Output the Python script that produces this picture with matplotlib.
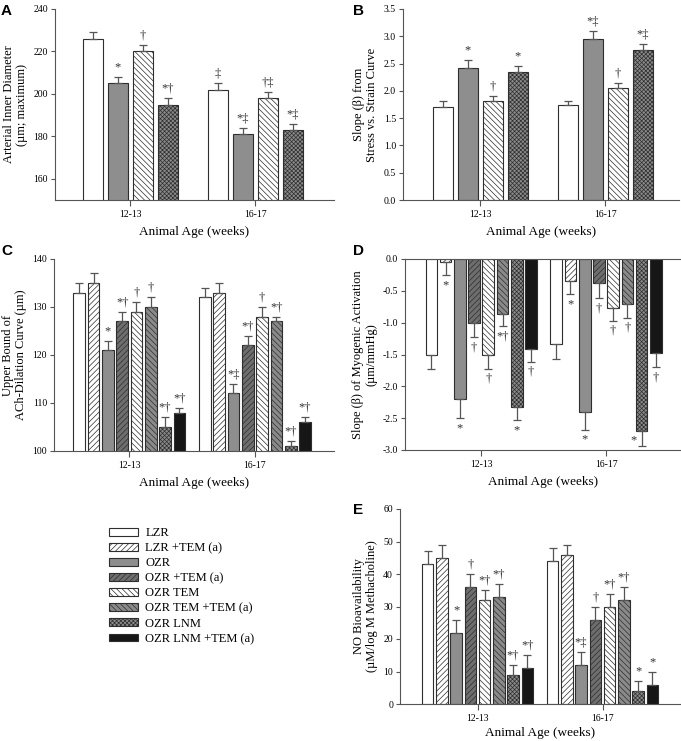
import numpy as np
import matplotlib.pyplot as plt
from matplotlib.patches import Patch

plt.rcParams['font.family'] = ['Liberation Serif', 'DejaVu Serif']
plt.rcParams['hatch.linewidth'] = 0.5

ages = ['12-13', '16-17']

# groups (order used in C, D, E)
groups = ['LZR', 'LZR +TEM (a)', 'OZR', 'OZR +TEM (a)', 'OZR TEM',
          'OZR TEM +TEM (a)', 'OZR LNM', 'OZR LNM +TEM (a)']

# A: arterial inner diameter (LZR, OZR, OZR TEM, OZR LNM)
diam = [[226, 205, 220, 195], [202, 181, 198, 183]]
diam_err = [[3, 3, 3, 3], [3, 3, 3, 3]]
diam_sig = [['', '*', '†', '*†'], ['‡', '*‡', '†‡', '*‡']]

# B: slope from stress vs strain curve
slope = [[1.71, 2.42, 1.82, 2.35], [1.75, 2.95, 2.05, 2.74]]
slope_err = [[0.11, 0.14, 0.08, 0.10], [0.07, 0.15, 0.09, 0.12]]
slope_sig = [['', '*', '†', '*'], ['', '*‡', '†', '*‡']]

# C: upper bound of ACh dilation curve
ach = [[133, 135, 121, 127, 129, 130, 105, 108],
       [132, 133, 112, 122, 128, 127, 101, 106]]
ach_err = [[2, 2, 2, 2, 2, 2, 2, 1],
           [2, 2, 2, 2, 2, 1, 1, 1]]
ach_sig = [['', '', '*', '*†', '†', '†', '*†', '*†'],
           ['', '', '*‡', '*†', '†', '*†', '*†', '*†']]

# D: slope of myogenic activation
myo = [[-1.50, -0.05, -2.20, -1.01, -1.50, -0.86, -2.32, -1.42],
       [-1.34, -0.34, -2.41, -0.37, -0.77, -0.71, -2.70, -1.48]]
myo_err = [[0.23, 0.20, 0.30, 0.22, 0.22, 0.19, 0.21, 0.19],
           [0.23, 0.21, 0.27, 0.25, 0.20, 0.21, 0.24, 0.22]]
myo_sig = [['', '*', '*', '†', '†', '*†', '*', '†'],
           ['', '*', '*', '†', '†', '†', '*', '†']]

# E: NO bioavailability
no = [[43, 45, 22, 36, 32, 33, 9, 11],
      [44, 46, 12, 26, 30, 32, 4, 6]]
no_err = [[4, 4, 4, 4, 3, 4, 3, 4],
          [4, 3, 4, 4, 4, 4, 3, 4]]
no_sig = [['', '', '*', '†', '*†', '*†', '*†', '*†'],
          ['', '', '*‡', '†', '*†', '*†', '*', '*']]

# fill, hatch for each group
styles = {
    'LZR': ('white', ''),
    'LZR +TEM (a)': ('white', '//////'),
    'OZR': ('#8e8e8e', ''),
    'OZR +TEM (a)': ('#6e6e6e', '//////'),
    'OZR TEM': ('white', '\\\\\\\\\\\\'),
    'OZR TEM +TEM (a)': ('#8a8a8a', '\\\\\\\\\\\\'),
    'OZR LNM': ('#8a8a8a', 'xxxxxxxx'),
    'OZR LNM +TEM (a)': ('#161616', ''),
}
EDGE = '#2e2e2e'

W, H = 681, 741
fig = plt.figure(figsize=(W / 100, H / 100), dpi=100)


def make_ax(left, top, right, bottom):
    return fig.add_axes([left / W, 1 - bottom / H, (right - left) / W, (bottom - top) / H])


def bars(ax, names, vals, errs, sigs, width, pitch, down=False):
    n = len(names)
    offs = (np.arange(n) - (n - 1) / 2) * pitch
    for g in range(2):
        for i, name in enumerate(names):
            fc, hatch = styles[name]
            x = g + offs[i]
            v = vals[g][i]
            e = errs[g][i]
            ax.bar(x, v, width, color=fc, edgecolor=EDGE, hatch=hatch, linewidth=0.8, zorder=2)
            yerr = [[e], [0]] if down else [[0], [e]]
            ax.errorbar(x, v, yerr=yerr, fmt='none', ecolor='#555555', elinewidth=0.9,
                        capsize=3, capthick=0.9, zorder=3)
            s = sigs[g][i]
            if not s:
                continue
            if down:
                # keep the mark inside the axes when the bar runs near the floor
                if v - e < ax.get_ylim()[0] + 0.15:
                    ax.annotate(s, (x, v - e), xytext=(-6, 4), textcoords='offset points',
                                ha='center', va='center', fontsize=9, color='#333333')
                else:
                    ax.annotate(s, (x, v - e), xytext=(0, -3), textcoords='offset points',
                                ha='center', va='top', fontsize=9, color='#333333')
            else:
                ax.annotate(s, (x, v + e), xytext=(0, 2.5), textcoords='offset points',
                            ha='center', va='bottom', fontsize=9, color='#333333')


def style(ax, xlim, ylim, yticks, fmt, ylabel):
    ax.set_xlim(*xlim)
    ax.set_ylim(*ylim)
    ax.set_yticks(yticks)
    ax.set_yticklabels([fmt.format(t) for t in yticks], fontsize=7)
    ax.set_xticks([0, 1])
    ax.set_xticklabels(ages, fontsize=7)
    ax.set_xlabel('Animal Age (weeks)', fontsize=9.5, labelpad=5)
    ax.set_ylabel(ylabel, fontsize=9, linespacing=1.1, labelpad=4)
    for sp in ['top', 'right']:
        ax.spines[sp].set_visible(False)
    for sp in ['left', 'bottom']:
        ax.spines[sp].set_color('#555555')
        ax.spines[sp].set_linewidth(0.8)
    ax.tick_params(axis='both', direction='out', length=3, width=0.8, color='#555555', pad=2)
    ax.tick_params(axis='x', length=4, pad=3)


four = ['LZR', 'OZR', 'OZR TEM', 'OZR LNM']

axA = make_ax(55, 9, 334, 200)
style(axA, (-0.6, 1.63), (150, 240), [160, 180, 200, 220, 240], '{:.0f}',
      'Arterial Inner Diameter\n(µm; maximum)')
bars(axA, four, diam, diam_err, diam_sig, 0.16, 0.2)

axB = make_ax(403, 9, 679, 200)
style(axB, (-0.62, 1.59), (0, 3.5), np.arange(0, 3.51, 0.5), '{:.1f}',
      'Slope (β) from\nStress vs. Strain Curve')
bars(axB, four, slope, slope_err, slope_sig, 0.16, 0.2)

axC = make_ax(54, 259, 334, 451)
style(axC, (-0.6, 1.63), (100, 140), [100, 110, 120, 130, 140], '{:.0f}',
      'Upper Bound of\nACh-Dilation Curve (µm)')
bars(axC, groups, ach, ach_err, ach_sig, 0.093, 0.114)

axD = make_ax(405, 259, 681, 450)
style(axD, (-0.61, 1.6), (-3.0, 0.0), np.arange(-3.0, 0.01, 0.5), '{:.1f}',
      'Slope (β) of Myogenic Activation\n(µm/mmHg)')
bars(axD, groups, myo, myo_err, myo_sig, 0.093, 0.114, down=True)
axD.spines['top'].set_visible(True)
axD.spines['top'].set_color('#555555')
axD.spines['top'].set_linewidth(0.8)

axE = make_ax(400, 509, 680, 704)
style(axE, (-0.62, 1.62), (0, 60), [0, 10, 20, 30, 40, 50, 60], '{:.0f}',
      'NO Bioavailability\n(µM/log M Methacholine)')
bars(axE, groups, no, no_err, no_sig, 0.093, 0.114)
axE.xaxis.labelpad = 3

for letter, (px, py) in zip('ABCDE', [(1, 4), (353, 4), (1, 244), (353, 244), (353, 503)]):
    fig.text(px / W, 1 - py / H, letter, fontsize=11, fontweight='bold',
             family=['Liberation Sans', 'DejaVu Sans'], va='top', ha='left')

handles = [Patch(facecolor=styles[g][0], hatch=styles[g][1], edgecolor=EDGE, linewidth=0.8)
           for g in groups]
fig.legend(handles, groups, loc='upper left', bbox_to_anchor=(104 / W, 1 - 522 / H),
           frameon=False, fontsize=9, handlelength=2.3, handleheight=0.6,
           labelspacing=0.25, handletextpad=0.6, borderaxespad=0)

fig.savefig('out.png', dpi=100)
